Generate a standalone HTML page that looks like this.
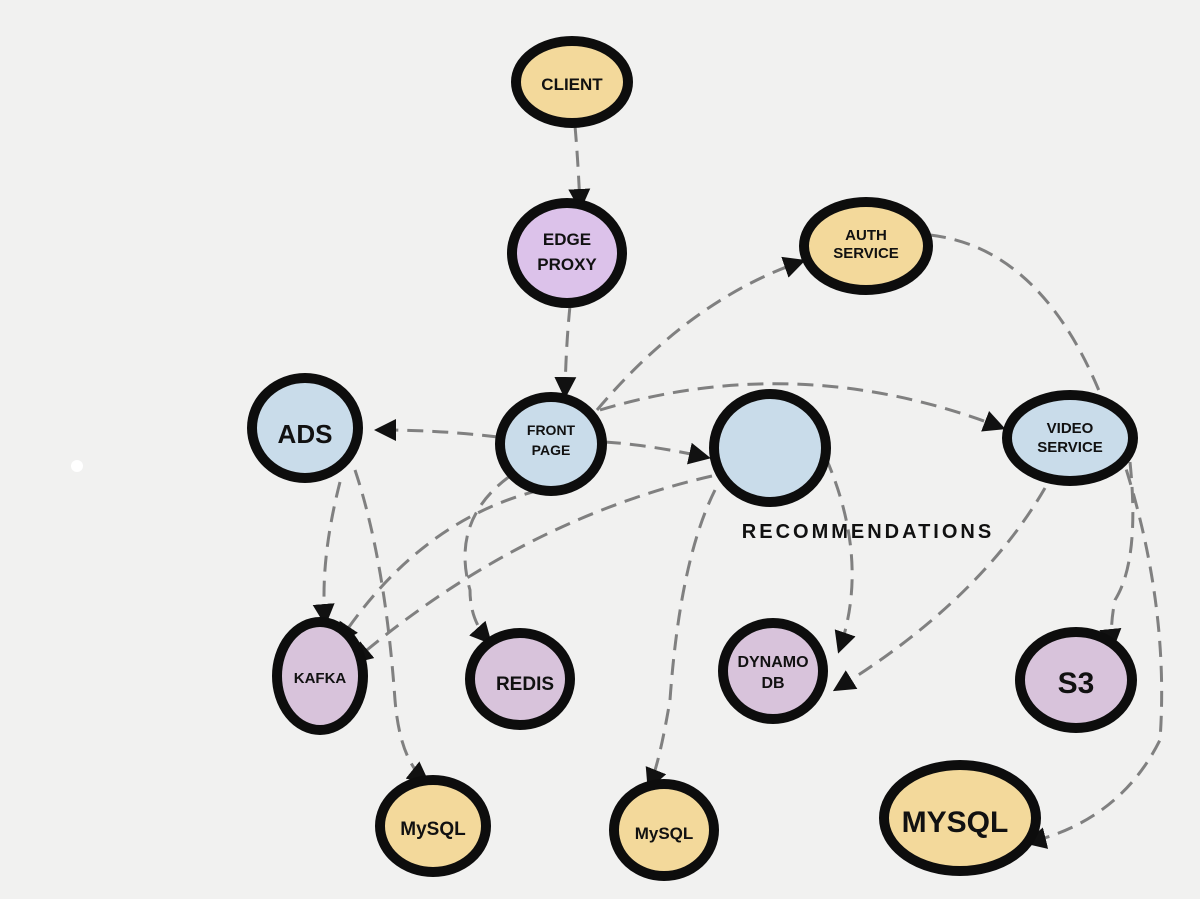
<!DOCTYPE html>
<html><head><meta charset="utf-8"><style>
html,body{margin:0;padding:0;background:#f1f1f0;}
svg{display:block}
text{font-family:"Liberation Sans",sans-serif;font-weight:bold;fill:#111;text-anchor:middle}
</style></head><body>
<svg width="1200" height="899" viewBox="0 0 1200 899">
<rect width="1200" height="899" fill="#f1f1f0"/>
<defs>
<marker id="b" markerWidth="22" markerHeight="22" refX="16" refY="11" orient="auto" markerUnits="userSpaceOnUse" viewBox="0 0 22 22">
<path d="M0,0 L22,11 L0,22 Z" fill="#111"/></marker>
</defs>
<g fill="none" stroke="#808080" stroke-width="3" stroke-dasharray="16,9" marker-end="url(#b)">
<path d="M575,126 Q578,160 580,205"/>
<path d="M570,306 Q566,345 565,393"/>
<path d="M597,410 Q690,300 800,262"/>
<path d="M930,235 Q1060,250 1120,450 Q1170,600 1160,740 Q1120,820 1030,842"/>
<path d="M600,410 Q800,350 1000,427"/>
<path d="M498,437 Q440,430 380,430"/>
<path d="M605,442 Q650,445 705,457"/>
<path d="M340,482 Q320,560 325,620"/>
<path d="M355,470 Q385,560 395,700 Q400,760 425,780"/>
<path d="M510,476 Q450,520 470,590 Q470,620 488,640"/>
<path d="M540,490 Q420,520 340,640"/>
<path d="M712,476 Q520,520 355,660"/>
<path d="M715,490 Q680,560 670,700 Q660,760 650,785"/>
<path d="M826,458 Q870,560 840,648"/>
<path d="M1045,488 Q980,600 838,688"/>
<path d="M1130,462 Q1140,560 1115,600 Q1110,625 1112,645"/>
</g>
<g stroke="#0d0d0d" stroke-width="10">
<ellipse cx="572" cy="82" rx="56" ry="41" fill="#f3d99b"/>
<ellipse cx="567" cy="253" rx="55" ry="50" fill="#dcc2ea"/>
<ellipse cx="866" cy="246" rx="62" ry="44" fill="#f3d99b"/>
<ellipse cx="305" cy="428" rx="53" ry="50" fill="#c9dcea"/>
<ellipse cx="551" cy="444" rx="51" ry="47" fill="#c9dcea"/>
<ellipse cx="770" cy="448" rx="56" ry="54" fill="#c9dcea"/>
<ellipse cx="1070" cy="438" rx="63" ry="43" fill="#c9dcea"/>
<ellipse cx="320" cy="676" rx="43" ry="54" fill="#d8c3db"/>
<ellipse cx="520" cy="679" rx="50" ry="46" fill="#d8c3db"/>
<ellipse cx="773" cy="671" rx="50" ry="48" fill="#d8c3db"/>
<ellipse cx="1076" cy="680" rx="56" ry="48" fill="#d8c3db"/>
<ellipse cx="433" cy="826" rx="53" ry="46" fill="#f3d99b"/>
<ellipse cx="664" cy="830" rx="50" ry="46" fill="#f3d99b"/>
<ellipse cx="960" cy="818" rx="76" ry="53" fill="#f3d99b"/>
</g>
<text x="572" y="90" font-size="17">CLIENT</text>
<text x="567" y="245" font-size="17">EDGE</text>
<text x="567" y="270" font-size="17">PROXY</text>
<text x="866" y="240" font-size="15">AUTH</text>
<text x="866" y="258" font-size="15">SERVICE</text>
<text x="305" y="443" font-size="26" font-weight="normal">ADS</text>
<text x="551" y="435" font-size="14">FRONT</text>
<text x="551" y="455" font-size="14">PAGE</text>
<text x="868" y="538" font-size="20" letter-spacing="3">RECOMMENDATIONS</text>
<text x="1070" y="433" font-size="15">VIDEO</text>
<text x="1070" y="452" font-size="15">SERVICE</text>
<text x="320" y="683" font-size="15">KAFKA</text>
<text x="525" y="690" font-size="19">REDIS</text>
<text x="773" y="667" font-size="16">DYNAMO</text>
<text x="773" y="688" font-size="16">DB</text>
<text x="1076" y="693" font-size="30" font-weight="normal">S3</text>
<text x="433" y="835" font-size="19">MySQL</text>
<text x="664" y="839" font-size="17">MySQL</text>
<text x="955" y="832" font-size="30" font-weight="normal">MYSQL</text>
<circle cx="77" cy="466" r="6" fill="#fff"/>
</svg>
</body></html>
